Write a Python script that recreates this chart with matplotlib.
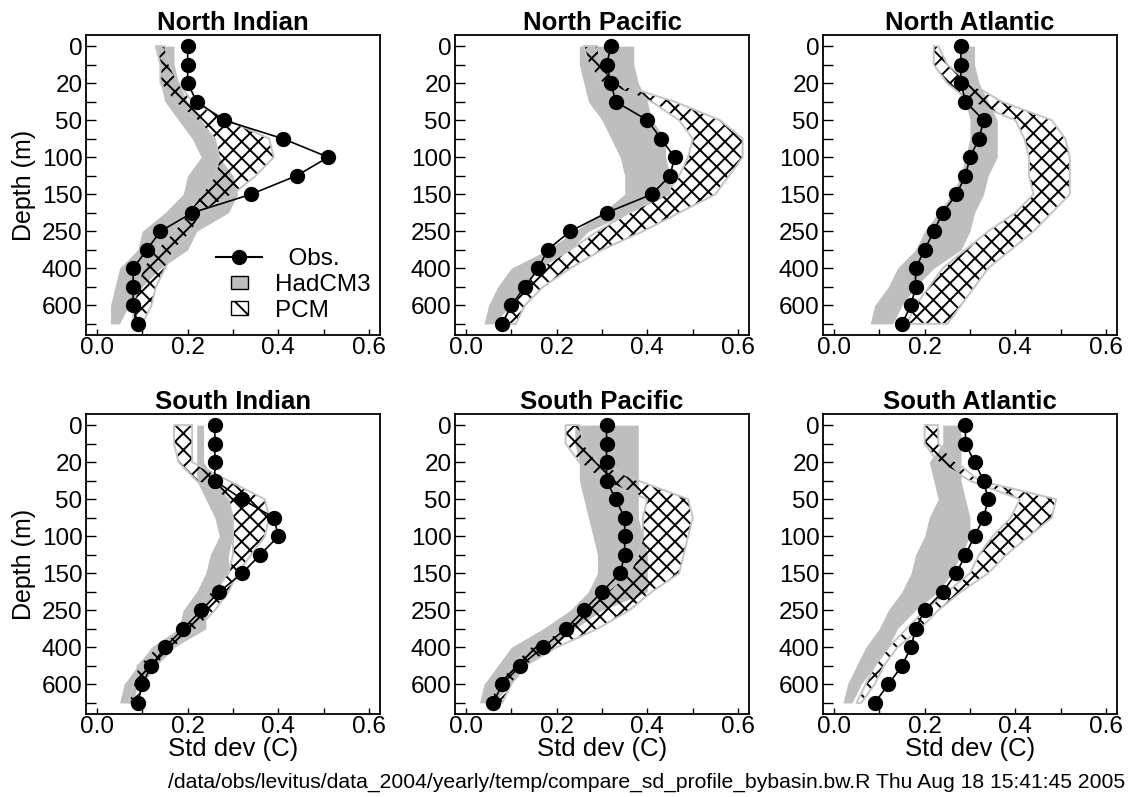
import matplotlib
matplotlib.use("Agg")
import matplotlib.pyplot as plt
from matplotlib.lines import Line2D
from matplotlib.patches import Patch, Rectangle
from matplotlib.legend_handler import HandlerPatch

plt.rcParams["font.family"] = ["Liberation Sans", "DejaVu Sans"]
plt.rcParams["hatch.linewidth"] = 1.4
plt.rcParams["hatch.color"] = "black"

# depth levels (m), equally spaced on the plot
depths = [0, 10, 20, 30, 50, 75, 100, 125, 150, 200, 250, 300, 400, 500, 600, 700]
xticks = [0.0, 0.1, 0.2, 0.3, 0.4, 0.5, 0.6]

# North Indian
ni_obs = [0.20, 0.20, 0.20, 0.22, 0.28, 0.41, 0.51, 0.44, 0.34, 0.21, 0.14, 0.11, 0.08, 0.08, 0.08, 0.09]
ni_had_lo = [0.13, 0.14, 0.14, 0.15, 0.18, 0.21, 0.23, 0.20, 0.19, 0.15, 0.10, 0.09, 0.05, 0.04, 0.03, 0.03]
ni_had_hi = [0.17, 0.17, 0.18, 0.20, 0.23, 0.26, 0.27, 0.30, 0.31, 0.29, 0.22, 0.20, 0.14, 0.10, 0.07, 0.05]
ni_pcm_lo = [0.13, 0.14, 0.14, 0.17, 0.22, 0.26, 0.27, 0.26, 0.23, 0.20, 0.17, 0.13, 0.10, 0.09, 0.08, 0.08]
ni_pcm_hi = [0.15, 0.16, 0.18, 0.21, 0.29, 0.38, 0.39, 0.35, 0.30, 0.23, 0.21, 0.17, 0.15, 0.13, 0.12, 0.10]

# North Pacific
np_obs = [0.32, 0.31, 0.32, 0.33, 0.40, 0.43, 0.46, 0.45, 0.41, 0.31, 0.23, 0.18, 0.16, 0.13, 0.10, 0.08]
np_had_lo = [0.25, 0.25, 0.26, 0.27, 0.30, 0.32, 0.34, 0.35, 0.35, 0.30, 0.24, 0.18, 0.10, 0.07, 0.05, 0.04]
np_had_hi = [0.37, 0.37, 0.38, 0.40, 0.41, 0.44, 0.44, 0.45, 0.45, 0.36, 0.27, 0.23, 0.16, 0.13, 0.10, 0.06]
np_pcm_lo = [0.26, 0.27, 0.30, 0.41, 0.47, 0.50, 0.49, 0.47, 0.44, 0.36, 0.29, 0.23, 0.16, 0.13, 0.10, 0.08]
np_pcm_hi = [0.29, 0.30, 0.33, 0.46, 0.56, 0.61, 0.61, 0.58, 0.55, 0.47, 0.39, 0.30, 0.23, 0.17, 0.13, 0.11]

# North Atlantic
na_obs = [0.28, 0.28, 0.28, 0.29, 0.33, 0.32, 0.30, 0.29, 0.27, 0.24, 0.22, 0.20, 0.18, 0.18, 0.17, 0.15]
na_had_lo = [0.28, 0.28, 0.28, 0.29, 0.30, 0.30, 0.29, 0.28, 0.26, 0.23, 0.20, 0.18, 0.14, 0.12, 0.09, 0.08]
na_had_hi = [0.31, 0.31, 0.32, 0.34, 0.36, 0.36, 0.36, 0.34, 0.33, 0.31, 0.30, 0.28, 0.22, 0.18, 0.15, 0.13]
na_pcm_lo = [0.22, 0.22, 0.25, 0.30, 0.40, 0.42, 0.43, 0.43, 0.44, 0.40, 0.34, 0.29, 0.24, 0.21, 0.18, 0.16]
na_pcm_hi = [0.23, 0.25, 0.30, 0.37, 0.48, 0.51, 0.52, 0.52, 0.52, 0.48, 0.44, 0.39, 0.34, 0.31, 0.28, 0.25]

# South Indian
si_obs = [0.26, 0.26, 0.26, 0.26, 0.32, 0.39, 0.40, 0.36, 0.32, 0.27, 0.23, 0.19, 0.15, 0.12, 0.10, 0.09]
si_had_lo = [0.22, 0.22, 0.22, 0.22, 0.24, 0.26, 0.27, 0.25, 0.24, 0.22, 0.19, 0.18, 0.12, 0.09, 0.06, 0.05]
si_had_hi = [0.235, 0.235, 0.235, 0.26, 0.29, 0.30, 0.30, 0.29, 0.29, 0.26, 0.24, 0.24, 0.17, 0.13, 0.09, 0.08]
si_pcm_lo = [0.17, 0.17, 0.18, 0.22, 0.29, 0.30, 0.30, 0.30, 0.29, 0.25, 0.22, 0.19, 0.13, 0.09, 0.08, 0.07]
si_pcm_hi = [0.21, 0.21, 0.21, 0.29, 0.37, 0.38, 0.37, 0.34, 0.31, 0.29, 0.26, 0.22, 0.17, 0.13, 0.10, 0.09]

# South Pacific
sp_obs = [0.31, 0.31, 0.31, 0.31, 0.33, 0.35, 0.35, 0.35, 0.34, 0.30, 0.26, 0.22, 0.17, 0.12, 0.08, 0.06]
sp_had_lo = [0.24, 0.24, 0.25, 0.25, 0.26, 0.27, 0.28, 0.29, 0.29, 0.27, 0.23, 0.17, 0.10, 0.07, 0.04, 0.03]
sp_had_hi = [0.38, 0.38, 0.38, 0.38, 0.38, 0.38, 0.39, 0.40, 0.40, 0.40, 0.30, 0.24, 0.19, 0.13, 0.10, 0.06]
sp_pcm_lo = [0.22, 0.22, 0.25, 0.30, 0.40, 0.39, 0.39, 0.38, 0.36, 0.31, 0.26, 0.22, 0.14, 0.10, 0.07, 0.05]
sp_pcm_hi = [0.25, 0.26, 0.29, 0.38, 0.49, 0.50, 0.49, 0.48, 0.47, 0.41, 0.36, 0.29, 0.20, 0.13, 0.10, 0.08]

# South Atlantic
sa_obs = [0.29, 0.29, 0.31, 0.33, 0.34, 0.33, 0.31, 0.29, 0.27, 0.24, 0.20, 0.18, 0.17, 0.15, 0.12, 0.09]
sa_had_lo = [0.24, 0.24, 0.21, 0.22, 0.23, 0.21, 0.20, 0.18, 0.17, 0.15, 0.12, 0.10, 0.07, 0.05, 0.03, 0.02]
sa_had_hi = [0.28, 0.28, 0.28, 0.28, 0.29, 0.30, 0.30, 0.28, 0.26, 0.23, 0.18, 0.14, 0.12, 0.09, 0.06, 0.04]
sa_pcm_lo = [0.20, 0.20, 0.23, 0.30, 0.41, 0.39, 0.35, 0.32, 0.30, 0.25, 0.20, 0.16, 0.12, 0.09, 0.07, 0.05]
sa_pcm_hi = [0.23, 0.23, 0.27, 0.32, 0.49, 0.48, 0.43, 0.38, 0.34, 0.28, 0.23, 0.19, 0.14, 0.11, 0.09, 0.06]

panels = [
    ("North Indian", ni_obs, ni_had_lo, ni_had_hi, ni_pcm_lo, ni_pcm_hi),
    ("North Pacific", np_obs, np_had_lo, np_had_hi, np_pcm_lo, np_pcm_hi),
    ("North Atlantic", na_obs, na_had_lo, na_had_hi, na_pcm_lo, na_pcm_hi),
    ("South Indian", si_obs, si_had_lo, si_had_hi, si_pcm_lo, si_pcm_hi),
    ("South Pacific", sp_obs, sp_had_lo, sp_had_hi, sp_pcm_lo, sp_pcm_hi),
    ("South Atlantic", sa_obs, sa_had_lo, sa_had_hi, sa_pcm_lo, sa_pcm_hi),
]

footer = ("/data/obs/levitus/data_2004/yearly/temp/compare_sd_profile_bybasin.bw.R "
          "Thu Aug 18 15:41:45 2005")

GREY = "#bebebe"
FS = 17.5

fig = plt.figure(figsize=(11.31, 7.97), dpi=100)
W, H = 1131, 797
lefts = [86, 455, 823]
tops = [35, 414]
aw, ah = 294, 300

levels = list(range(len(depths)))


def small_box(legend, orig_handle, xdescent, ydescent, width, height, fontsize):
    s = 0.55 * fontsize
    return Rectangle((width / 2 - s * 0.65 - xdescent, height / 2 - s / 2 - ydescent), s * 1.3, s)


for i, (name, obs, had_lo, had_hi, pcm_lo, pcm_hi) in enumerate(panels):
    row, col = divmod(i, 3)
    ax = fig.add_axes([lefts[col] / W, 1 - (tops[row] + ah) / H, aw / W, ah / H])

    ax.fill_betweenx(levels, had_lo, had_hi, color=GREY, linewidth=0, zorder=1)
    ax.fill_betweenx(levels, pcm_lo, pcm_hi, facecolor="none", edgecolor="black",
                     hatch="xx", linewidth=0, zorder=2)
    ax.fill_betweenx(levels, pcm_lo, pcm_hi, facecolor="none", edgecolor="#c4c4c4",
                     linewidth=1.4, zorder=3)
    ax.plot(obs, levels, color="black", linewidth=1.2, marker="o", markersize=10,
            zorder=4, clip_on=False)

    ax.set_xlim(-0.024, 0.624)
    ax.set_ylim(15.6, -0.6)
    ax.set_yticks(levels)
    ax.set_yticklabels([str(d) if k % 2 == 0 else "" for k, d in enumerate(depths)])
    ax.set_xticks(xticks)
    ax.set_xticklabels(["%.1f" % v if k % 2 == 0 else "" for k, v in enumerate(xticks)])
    ax.tick_params(axis="y", direction="in", length=7.5, width=1, pad=2.5, labelsize=FS)
    ax.tick_params(axis="x", direction="in", length=4, width=1, pad=1.5, labelsize=FS)
    for sp in ax.spines.values():
        sp.set_linewidth(1.3)
    ax.set_title(name, fontsize=18.5, fontweight="bold", pad=0)

    if col == 0:
        ax.set_ylabel("Depth (m)", fontsize=18, labelpad=4)
    if row == 1:
        ax.set_xlabel("Std dev (C)", fontsize=18.5, labelpad=-1)

    if i == 0:
        handles = [
            Line2D([], [], color="black", linewidth=1.5, marker="o", markersize=10),
            Patch(facecolor=GREY, edgecolor="black", linewidth=1),
            Patch(facecolor="white", edgecolor="black", linewidth=1, hatch="x"),
        ]
        ax.legend(handles, ["  Obs.", "HadCM3", "PCM"], loc="lower right",
                  frameon=False, fontsize=FS, handlelength=1.9, handletextpad=0.5,
                  labelspacing=0.15, borderaxespad=0.0,
                  bbox_to_anchor=(1.0, 0.012),
                  handler_map={Patch: HandlerPatch(patch_func=small_box)})

fig.text(1125 / W, 1 - 788 / H, footer, ha="right", va="baseline", fontsize=15.2)

fig.savefig("out.png", dpi=100)
